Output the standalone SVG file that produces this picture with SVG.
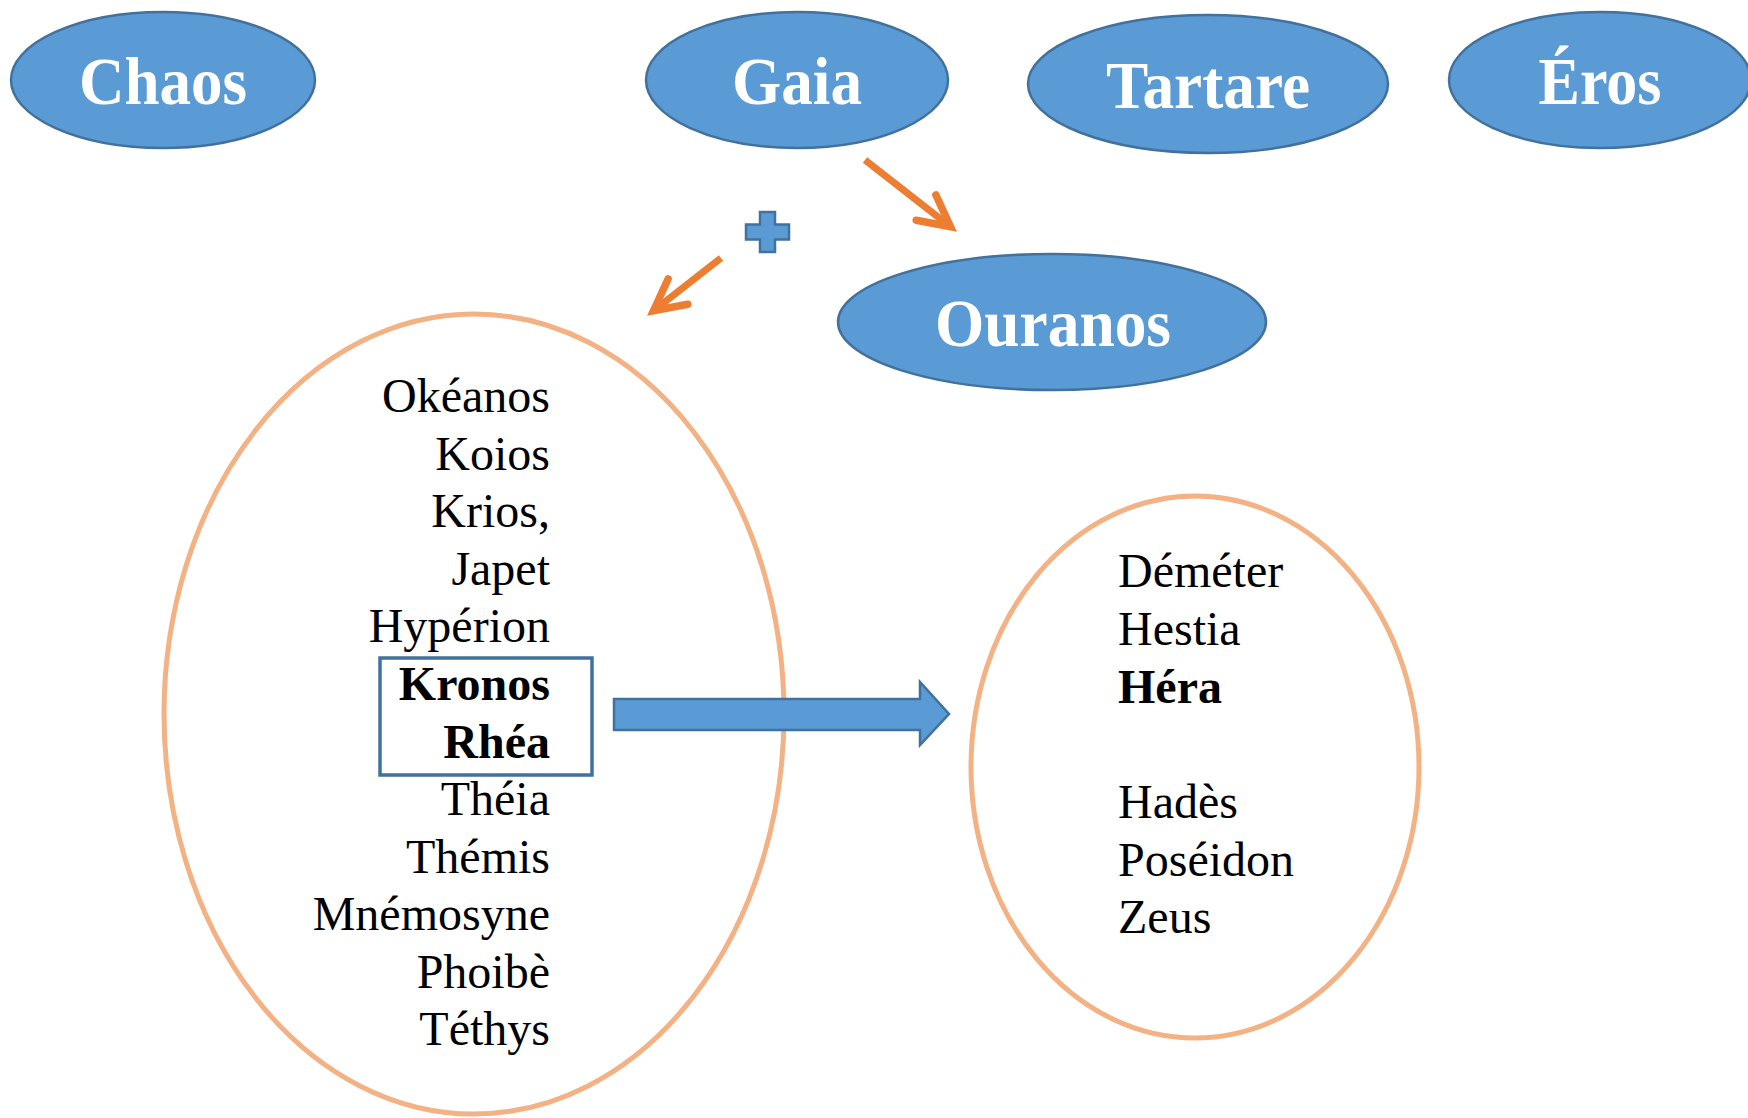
<svg xmlns="http://www.w3.org/2000/svg" width="1748" height="1118" viewBox="0 0 1748 1118">
<style>
.blue{fill:#5B9BD5;stroke:#41719C;stroke-width:2.5}
.ring{fill:none;stroke:#F4B183;stroke-width:5}
.title{font-family:"Liberation Serif","Times New Roman",serif;font-weight:bold;font-size:67px;fill:#fff;text-anchor:middle}
.name{font-family:"Liberation Serif","Times New Roman",serif;font-size:48px;fill:#000}
.r{text-anchor:end}
.b{font-weight:bold}
.conn{stroke:#ED7D31;stroke-width:7;fill:none}
</style>
<defs>
<marker id="open" markerUnits="userSpaceOnUse" viewBox="-40 -25 50 50" markerWidth="50" markerHeight="50" refX="0" refY="0" orient="auto">
<path d="M-31,-16 L0,0 L-31,16" fill="none" stroke="#ED7D31" stroke-width="7.5" stroke-linejoin="miter" stroke-linecap="round"/>
</marker>
</defs>
<rect width="1748" height="1118" fill="#fff"/>
<g id="chaos"><ellipse class="blue" cx="163" cy="80" rx="152" ry="68"/><text class="title" x="163" y="104" textLength="168" lengthAdjust="spacingAndGlyphs">Chaos</text></g>
<g id="gaia"><ellipse class="blue" cx="797" cy="80" rx="151" ry="68"/><text class="title" x="797" y="104" textLength="130" lengthAdjust="spacingAndGlyphs">Gaia</text></g>
<g id="tartare"><ellipse class="blue" cx="1208" cy="84" rx="180" ry="69"/><text class="title" x="1208" y="108" textLength="204" lengthAdjust="spacingAndGlyphs">Tartare</text></g>
<g id="eros"><ellipse class="blue" cx="1600" cy="80" rx="151" ry="68"/><text class="title" x="1600" y="104" textLength="123" lengthAdjust="spacingAndGlyphs">Éros</text></g>
<g id="ouranos"><ellipse class="blue" cx="1052" cy="322" rx="214" ry="68"/><text class="title" x="1053" y="346" textLength="236" lengthAdjust="spacingAndGlyphs">Ouranos</text></g>
<g id="plus"><path class="blue" d="M760,212 H775 V224.5 H789 V239.5 H775 V252 H760 V239.5 H746 V224.5 H760 Z" stroke-width="2"/></g>
<g id="titans">
<ellipse class="ring" cx="474" cy="714" rx="310" ry="400"/>
<rect x="380" y="658" width="212" height="117" fill="none" stroke="#41719C" stroke-width="3.5"/>
<text class="name r" x="550" y="412">Okéanos</text>
<text class="name r" x="550" y="470">Koios</text>
<text class="name r" x="550" y="527">Krios,</text>
<text class="name r" x="550" y="585">Japet</text>
<text class="name r" x="550" y="642">Hypérion</text>
<text class="name r b" x="550" y="700">Kronos</text>
<text class="name r b" x="550" y="758">Rhéa</text>
<text class="name r" x="550" y="815">Théia</text>
<text class="name r" x="550" y="873">Thémis</text>
<text class="name r" x="550" y="930">Mnémosyne</text>
<text class="name r" x="550" y="988">Phoibè</text>
<text class="name r" x="550" y="1045">Téthys</text>
</g>
<g id="olympians">
<ellipse class="ring" cx="1195" cy="767" rx="224" ry="271"/>
<text class="name" x="1118" y="587">Déméter</text>
<text class="name" x="1118" y="645">Hestia</text>
<text class="name b" x="1118" y="703">Héra</text>
<text class="name" x="1118" y="818">Hadès</text>
<text class="name" x="1118" y="876">Poséidon</text>
<text class="name" x="1118" y="933">Zeus</text>
</g>
<g id="connectors">
<line class="conn" x1="865" y1="160" x2="950.5" y2="226.7" marker-end="url(#open)"/>
<line class="conn" x1="721" y1="258" x2="653.5" y2="310.7" marker-end="url(#open)"/>
<path class="blue" d="M614,699 H920 V682 L949,714 L920,745 V730 H614 Z"/>
</g>
</svg>
